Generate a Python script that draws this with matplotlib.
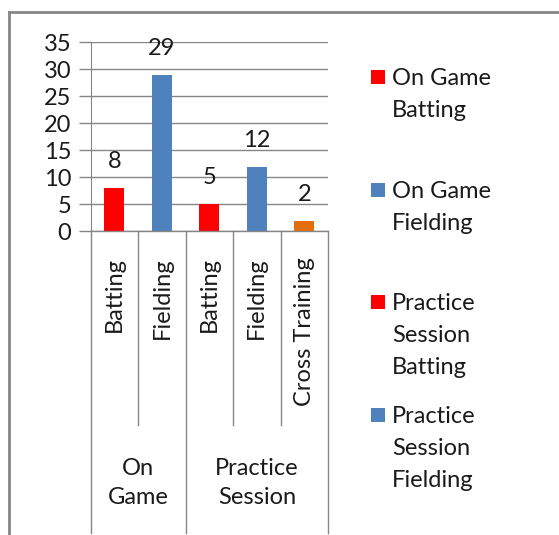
import matplotlib
matplotlib.use("Agg")
import matplotlib.pyplot as plt
import matplotlib.transforms as mtransforms
from matplotlib.patches import Rectangle

plt.rcParams['font.family'] = ['Lato', 'DejaVu Sans']

# --- data ---
categories = ["Batting", "Fielding", "Batting", "Fielding", "Cross Training"]
groups = ["On\nGame", "Practice\nSession"]
group_sizes = [2, 3]
values = [8, 29, 5, 12, 2]
bar_colors = ["#FF0000", "#4F81BD", "#FF0000", "#4F81BD", "#E46C0A"]
legend_labels = ["On Game\nBatting", "On Game\nFielding",
                 "Practice\nSession\nBatting", "Practice\nSession\nFielding"]
legend_colors = ["#FF0000", "#4F81BD", "#FF0000", "#4F81BD"]
y_ticks = [0, 5, 10, 15, 20, 25, 30, 35]

W, H = 559, 535
FS = 17
TXT = "#1a1a1a"
GRID = "#868686"

fig = plt.figure(figsize=(W / 100, H / 100), dpi=100)
fig.patch.set_facecolor("white")

def px(x, y):
    # pixel (from top-left) -> figure fraction
    return x / W, 1 - y / H

# plot area: x 90.7..328, y 42.3 (35) .. 231.3 (0)
l, b = px(90.7, 231.3)
r, t = px(328, 42.3)
ax = fig.add_axes([l, b, r - l, t - b])

x = list(range(len(values)))
ax.bar(x, values, width=0.42, color=bar_colors, zorder=3)
ax.set_xlim(-0.5, len(values) - 0.5)
ax.set_ylim(0, 35)
ax.set_yticks(y_ticks)
ax.set_yticklabels([str(v) for v in y_ticks], fontsize=FS, color=TXT)
ax.tick_params(axis="y", length=9, color=GRID, width=1, pad=5)
ax.tick_params(axis="x", length=0, labelbottom=False)
for s in ["top", "right", "bottom"]:
    ax.spines[s].set_visible(False)
ax.spines["left"].set_color(GRID)
ax.grid(axis="y", color=GRID, linewidth=1, zorder=0)
ax.set_axisbelow(True)
ax.axhline(0, color=GRID, linewidth=1, zorder=4, clip_on=False)

# data labels
for xi, v in zip(x, values):
    ax.annotate(str(v), (xi, v), xytext=(0, 19), textcoords="offset points",
                ha="center", va="center", fontsize=FS, color=TXT)

# multi-level category axis
trans = mtransforms.blended_transform_factory(ax.transData, fig.transFigure)
y0 = 1 - 231.3 / H
y_inner = 1 - 425 / H
y_outer = 1 - 533 / H
bounds = [0]
for g in group_sizes:
    bounds.append(bounds[-1] + g)
for i in range(len(values) + 1):
    ybot = y_outer if i in bounds else y_inner
    ax.plot([i - 0.5, i - 0.5], [y0, ybot], transform=trans, color=GRID,
            linewidth=1, clip_on=False)

y_cat = 1 - 257 / H
for xi, c in zip(x, categories):
    ax.text(xi, y_cat, c, transform=trans, rotation=90, ha="center", va="top",
            fontsize=FS, color=TXT)

y_grp = 1 - 483 / H
for gi, g in enumerate(groups):
    mid = (bounds[gi] + bounds[gi + 1]) / 2 - 0.5
    ax.text(mid, y_grp, g, transform=trans, ha="center", va="center",
            fontsize=FS, color=TXT, linespacing=1.45)

# legend, drawn by hand
legend_tops = [77, 190, 302, 415]
for lab, col, yc in zip(legend_labels, legend_colors, legend_tops):
    fx, fy = px(371, yc + 7)
    fig.patches.append(Rectangle((fx, fy), 14 / W, 14 / H, transform=fig.transFigure,
                                 facecolor=col, edgecolor="none"))
    tx, ty = px(392, yc - 9)
    fig.text(tx, ty, lab, ha="left", va="top", fontsize=FS, color=TXT,
             linespacing=1.65)

# chart border (top and left only visible)
fig.add_artist(plt.Line2D([9 / W, 9 / W], [1 - 12 / H, 0], transform=fig.transFigure,
                          color=GRID, linewidth=2))
fig.add_artist(plt.Line2D([9 / W, 1], [1 - 12 / H, 1 - 12 / H], transform=fig.transFigure,
                          color=GRID, linewidth=2))

fig.savefig("out.png", dpi=100)
